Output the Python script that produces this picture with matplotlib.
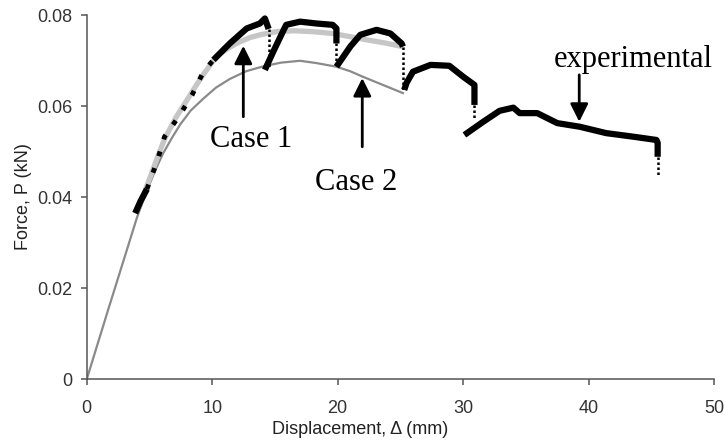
import matplotlib
import matplotlib.pyplot as plt

matplotlib.use('Agg')

# model curves
case2_x = [0, 1.7, 4.0, 4.5, 5.0, 5.5, 6.1, 6.8, 7.45, 8.3, 9.3, 10.3, 11.4, 12.7, 14.1, 15.5, 17.0, 18.3,
           19.9, 21.0, 22.0, 23.6, 25.2]
case2_y = [0, 0.0152, 0.0355, 0.0393, 0.0428, 0.0462, 0.0497, 0.0531, 0.0560, 0.0591, 0.0617, 0.0641, 0.0660,
           0.0677, 0.0688, 0.0696, 0.0700, 0.0695, 0.0687, 0.0677, 0.0665, 0.0647, 0.0629]
case1_x = [4.3, 5.0, 5.6, 6.2, 7.1, 8.0, 8.7, 9.3, 10.0, 10.6, 11.3, 12.0, 13.0, 13.8, 15.1, 16.5, 18.0, 19.6,
           21.0, 22.3, 23.8, 25.2]
case1_y = [0.0390, 0.0440, 0.0485, 0.0528, 0.0575, 0.0614, 0.0645, 0.0670, 0.0697, 0.0715, 0.0728, 0.0739,
           0.0751, 0.0757, 0.0764, 0.0766, 0.0764, 0.0760, 0.0753, 0.0746, 0.0739, 0.0731]

# experimental record, split where the load drops
exp_segments = [
    ([3.86, 4.3, 4.8], [0.0365, 0.0392, 0.0418]),
    ([10.1, 11.4, 12.75, 13.8, 14.2, 14.5], [0.0702, 0.0738, 0.0771, 0.0782, 0.0793, 0.0770]),
    ([14.2, 14.9, 15.7, 15.9, 17.0, 18.3, 19.6, 19.9, 19.9], [0.0680, 0.0722, 0.0768, 0.0779, 0.0786, 0.0782,
                                                              0.0779, 0.0771, 0.0738]),
    ([19.9, 21.0, 21.8, 23.1, 24.2, 25.1, 25.2], [0.0687, 0.0731, 0.0757, 0.0768, 0.0760, 0.0738, 0.0731]),
    ([25.3, 25.5, 26.0, 27.4, 28.9, 30.0, 30.9, 30.9], [0.0636, 0.0652, 0.0676, 0.0691, 0.0689, 0.0665, 0.0647,
                                                        0.0603]),
    ([30.1, 31.6, 32.9, 34.0, 34.5, 35.9, 37.5, 39.3, 41.4, 43.6, 45.4, 45.5, 45.5],
     [0.0537, 0.0566, 0.0590, 0.0597, 0.0585, 0.0585, 0.0563, 0.0555, 0.0541, 0.0533, 0.0526, 0.0520, 0.0489]),
]
# sparse part of the experimental record over the model curve
exp_gap_x = [4.8, 5.6, 6.2, 7.4, 8.4, 9.3, 10.1]
exp_gap_y = [0.0418, 0.0478, 0.0533, 0.0580, 0.0625, 0.0676, 0.0702]
# vertical load drops: x, y from, y to
drops = [(14.5, 0.0770, 0.0684), (19.9, 0.0738, 0.0690), (25.2, 0.0731, 0.0636),
         (30.9, 0.0603, 0.0570), (45.5, 0.0489, 0.0445)]

x_ticks = [0, 10, 20, 30, 40, 50]
y_ticks = [0, 0.02, 0.04, 0.06, 0.08]
y_tick_labels = ['0', '0.02', '0.04', '0.06', '0.08']

fig = plt.figure(figsize=(7.25, 4.43), dpi=100)
ax = fig.add_axes([0.1196, 0.1438, 0.8654, 0.8217])

ax.plot(case2_x, case2_y, color='#8a8a8a', lw=1.6, zorder=2)
ax.plot(case1_x, case1_y, color='#c6c6c6', lw=3.8, solid_capstyle='butt', zorder=3)
ax.plot(exp_gap_x, exp_gap_y, color='black', lw=3.5, ls=(0, (1.0, 2.6)), zorder=4)
for sx, sy in exp_segments:
    ax.plot(sx, sy, color='black', lw=4.5, solid_capstyle='butt', solid_joinstyle='round', zorder=5)
for dx, y0, y1 in drops:
    ax.plot([dx, dx], [y0, y1], color='black', lw=1.8, ls=(0, (1, 1)), zorder=5)

serif = 'Liberation Serif'
arrow = dict(arrowstyle='-|>', color='black', lw=2, mutation_scale=27, shrinkA=0, shrinkB=0)
ax.annotate('', xy=(12.48, 0.0733), xytext=(12.48, 0.0577), arrowprops=arrow, zorder=6)
ax.text(13.1, 0.0511, 'Case 1', family=serif, fontsize=22, ha='center', va='baseline')
ax.annotate('', xy=(21.96, 0.0662), xytext=(21.96, 0.0511), arrowprops=arrow, zorder=6)
ax.text(21.45, 0.0417, 'Case 2', family=serif, fontsize=22, ha='center', va='baseline')
ax.annotate('', xy=(39.25, 0.0566), xytext=(39.25, 0.0669), arrowprops=arrow, zorder=6)
ax.text(43.56, 0.0687, 'experimental', family=serif, fontsize=22, ha='center', va='baseline')

ax.set_xlim(0, 50)
ax.set_ylim(0, 0.08)
ax.set_xticks(x_ticks)
ax.set_yticks(y_ticks, y_tick_labels)
for side in ['top', 'right']:
    ax.spines[side].set_visible(False)
for side in ['left', 'bottom']:
    ax.spines[side].set_color('#555555')
    ax.spines[side].set_linewidth(1.1)
ax.tick_params(axis='both', direction='out', length=4, width=1.1, color='#555555',
               labelcolor='#333333', labelsize=13)
ax.tick_params(axis='x', pad=11)
ax.tick_params(axis='y', pad=6)
for lab in ax.get_xticklabels() + ax.get_yticklabels():
    lab.set_family('Liberation Sans')

ax.set_xlabel('Displacement, \u0394 (mm)', family='Liberation Sans', fontsize=13, color='#222222')
ax.set_ylabel('Force, P (kN)', family='Liberation Sans', fontsize=13, color='#222222')
ax.xaxis.set_label_coords(0.4355, -0.115)
ax.yaxis.set_label_coords(-0.087, 0.502)

fig.savefig('out.png', dpi=100)
